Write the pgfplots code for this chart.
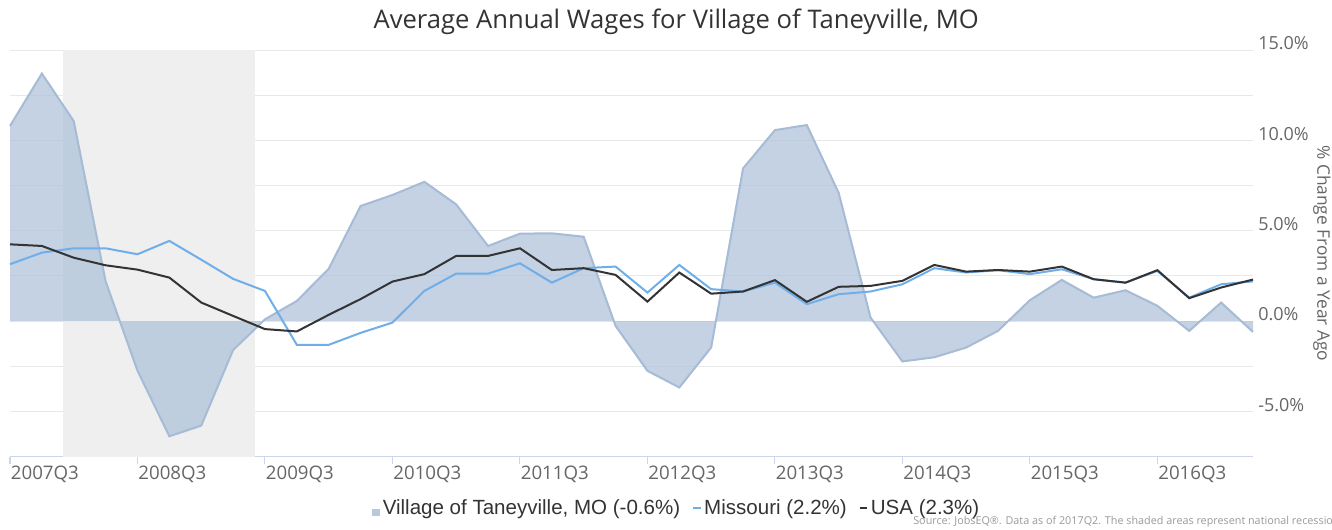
\documentclass[border=0pt]{standalone}
\usepackage{fontspec}
\setmainfont{Open Sans}
\newfontfamily\legendfont{Liberation Sans}
\usepackage{pgfplots}
\usepackage{pgfplotstable}
\pgfplotsset{compat=1.18}
\definecolor{areafill}{HTML}{B0C3DA}
\definecolor{arealine}{HTML}{A6BBD5}
\definecolor{mocol}{HTML}{6FAEE8}
\definecolor{usacol}{HTML}{333333}
\definecolor{recess}{HTML}{EFEFEF}
\definecolor{gridc}{HTML}{E8E8E8}
\definecolor{axisc}{HTML}{CCD6EB}
\definecolor{labc}{HTML}{666666}
\definecolor{titc}{HTML}{333333}
\definecolor{srcc}{HTML}{999999}

\pgfplotstableread{
i tan mo usa
0 10.8 3.15 4.25
1 13.7 3.79 4.16
2 11.07 4.03 3.51
3 2.2 4.03 3.09
4 -2.74 3.70 2.85
5 -6.37 4.44 2.41
6 -5.78 3.4 1.03
7 -1.6 2.34 0.29
8 0.1 1.67 -0.44
9 1.12 -1.31 -0.57
10 2.9 -1.31 0.35
11 6.37 -0.65 1.22
12 6.98 -0.08 2.19
13 7.71 1.67 2.6
14 6.46 2.63 3.61
15 4.16 2.63 3.61
16 4.84 3.2 4.03
17 4.86 2.13 2.83
18 4.67 2.93 2.93
19 -0.26 3.02 2.56
20 -2.75 1.58 1.08
21 -3.67 3.11 2.69
22 -1.46 1.77 1.52
23 8.45 1.64 1.64
24 10.57 2.13 2.27
25 10.85 0.94 1.07
26 7.1 1.49 1.9
27 0.2 1.64 1.95
28 -2.23 2.04 2.23
29 -2.0 2.93 3.11
30 -1.46 2.69 2.74
31 -0.54 2.82 2.83
32 1.16 2.6 2.74
33 2.28 2.87 3.02
34 1.3 2.32 2.32
35 1.71 2.13 2.13
36 0.85 2.78 2.82
37 -0.54 1.3 1.27
38 1.03 2.04 1.86
39 -0.6 2.2 2.3
}\data

\begin{document}
\begin{tikzpicture}
\path[use as bounding box] (0,0) rectangle (999pt,396.75pt);
\begin{axis}[
  at={(7.5pt,54.225pt)}, anchor=south west,
  scale only axis, width=932.25pt, height=305pt,
  xmin=0, xmax=39, ymin=-7.5, ymax=15,
  clip=false,
  axis x line*=bottom, axis y line*=right,
  x axis line style={draw=axisc, line width=0.75pt},
  y axis line style={draw=none},
  xtick={0,4,...,36},
  xticklabels={2007Q3,2008Q3,2009Q3,2010Q3,2011Q3,2012Q3,2013Q3,2014Q3,2015Q3,2016Q3},
  xtick style={draw=axisc, line width=0.75pt},
  xtick align=outside, major tick length=5.25pt,
  xticklabel style={anchor=north west, inner sep=0pt, xshift=0.5pt, yshift=-1.5pt, font=\fontsize{14pt}{16pt}\selectfont, text=labc},
  ytick={-5,0,5,10,15},
  yticklabels={-5.0\%,0.0\%,5.0\%,10.0\%,15.0\%},
  minor ytick={-2.5,2.5,7.5,12.5},
  ytick style={draw=none}, minor tick style={draw=none},
  ymajorgrids, yminorgrids,
  major grid style={draw=gridc, line width=0.75pt},
  minor grid style={draw=gridc, line width=0.75pt},
  yticklabel style={anchor=west, inner sep=0pt, xshift=3.75pt, yshift=5pt, font=\fontsize{13.5pt}{16pt}\selectfont, text=labc},
  legend columns=3,
  legend style={at={(0.5366,-0.1255)}, anchor=center, draw=none, fill=none,
    font=\legendfont\fontsize{15.4pt}{18pt}\selectfont, text=titc,
    /tikz/every even column/.append style={column sep=7pt}},
]
\fill[recess] (axis cs:1.67,-7.5) rectangle (axis cs:7.68,15);
\addplot[fill=areafill, fill opacity=0.75, draw=none,
  legend image code/.code={\fill[areafill, fill opacity=0.9] (0pt,-6.3pt) rectangle (6pt,-0.8pt);}]
  table[x=i, y=tan] {\data} \closedcycle;
\addlegendentry{Village of Taneyville, MO (-0.6\%)}
\addplot[arealine, line width=1.5pt, forget plot] table[x=i, y=tan] {\data};
\addplot[mocol, line width=1.5pt, mark=none,
  legend image code/.code={\draw[mocol, line width=1.5pt] (0pt,0pt) -- (5.5pt,0pt);}]
  table[x=i, y=mo] {\data};
\addlegendentry{Missouri (2.2\%)}
\addplot[usacol, line width=1.5pt, mark=none,
  legend image code/.code={\draw[usacol, line width=1.5pt] (0pt,0pt) -- (5.5pt,0pt);}]
  table[x=i, y=usa] {\data};
\addlegendentry{USA (2.3\%)}
\node[anchor=center, font=\fontsize{19.2pt}{22pt}\selectfont, text=titc] at (axis description cs:0.536,1.0688) {Average Annual Wages for Village of Taneyville, MO};
\node[anchor=center, rotate=-90, font=\fontsize{13pt}{16pt}\selectfont, text=labc] at (axis description cs:1.0555,0.5) {\% Change From a Year Ago};
\node[anchor=west, inner sep=0pt, font=\fontsize{8.1pt}{9pt}\selectfont, text=srcc] at (axis description cs:0.7265,-0.1606) {Source: JobsEQ®. Data as of 2017Q2. The shaded areas represent national recessions.};
\end{axis}
\end{tikzpicture}
\end{document}
